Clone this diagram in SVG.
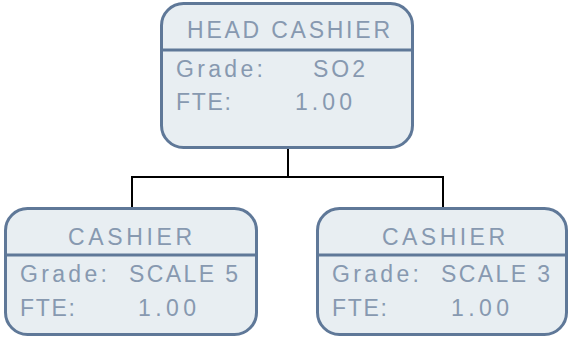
<svg xmlns="http://www.w3.org/2000/svg" width="569" height="337" viewBox="0 0 569 337">
<style>
.box{fill:#e8eef2;stroke:#5f7898;stroke-width:3}
.div{stroke:#5f7898;stroke-width:3}
.t{font-family:"Liberation Sans",Arial,sans-serif;font-size:23px;fill:#8799b0}
.conn{fill:none;stroke:#000;stroke-width:2}
</style>
<rect width="569" height="337" fill="#fff"/>
<g id="connectors">
<path class="conn" d="M288 147V177M132 177H443M132 176V208M443 176V208"/>
</g>
<g id="head">
<rect class="box" x="161.5" y="3.5" width="251" height="144" rx="22"/>
<line class="div" x1="161.5" y1="50" x2="412.5" y2="50"/>
<text class="t" x="187" y="38" textLength="203" lengthAdjust="spacing">HEAD CASHIER</text>
<text class="t" x="176" y="77" textLength="87" lengthAdjust="spacing">Grade:</text>
<text class="t" x="313" y="77" textLength="52" lengthAdjust="spacing">SO2</text>
<text class="t" x="176" y="110" textLength="55" lengthAdjust="spacing">FTE:</text>
<text class="t" x="295" y="110" textLength="57" lengthAdjust="spacing">1.00</text>
</g>
<g id="cashier1">
<rect class="box" x="5.5" y="208.5" width="251" height="126" rx="22"/>
<line class="div" x1="5.5" y1="255" x2="256.5" y2="255"/>
<text class="t" x="68" y="245" textLength="124" lengthAdjust="spacing">CASHIER</text>
<text class="t" x="20" y="282" textLength="87" lengthAdjust="spacing">Grade:</text>
<text class="t" x="129" y="282" textLength="109" lengthAdjust="spacing">SCALE 5</text>
<text class="t" x="20" y="316" textLength="55" lengthAdjust="spacing">FTE:</text>
<text class="t" x="138" y="316" textLength="58" lengthAdjust="spacing">1.00</text>
</g>
<g id="cashier2">
<rect class="box" x="317.5" y="208.5" width="249" height="126" rx="22"/>
<line class="div" x1="317.5" y1="255" x2="566.5" y2="255"/>
<text class="t" x="382" y="245" textLength="123" lengthAdjust="spacing">CASHIER</text>
<text class="t" x="332" y="282" textLength="87" lengthAdjust="spacing">Grade:</text>
<text class="t" x="441" y="282" textLength="109" lengthAdjust="spacing">SCALE 3</text>
<text class="t" x="332" y="316" textLength="55" lengthAdjust="spacing">FTE:</text>
<text class="t" x="451" y="316" textLength="58" lengthAdjust="spacing">1.00</text>
</g>
</svg>
